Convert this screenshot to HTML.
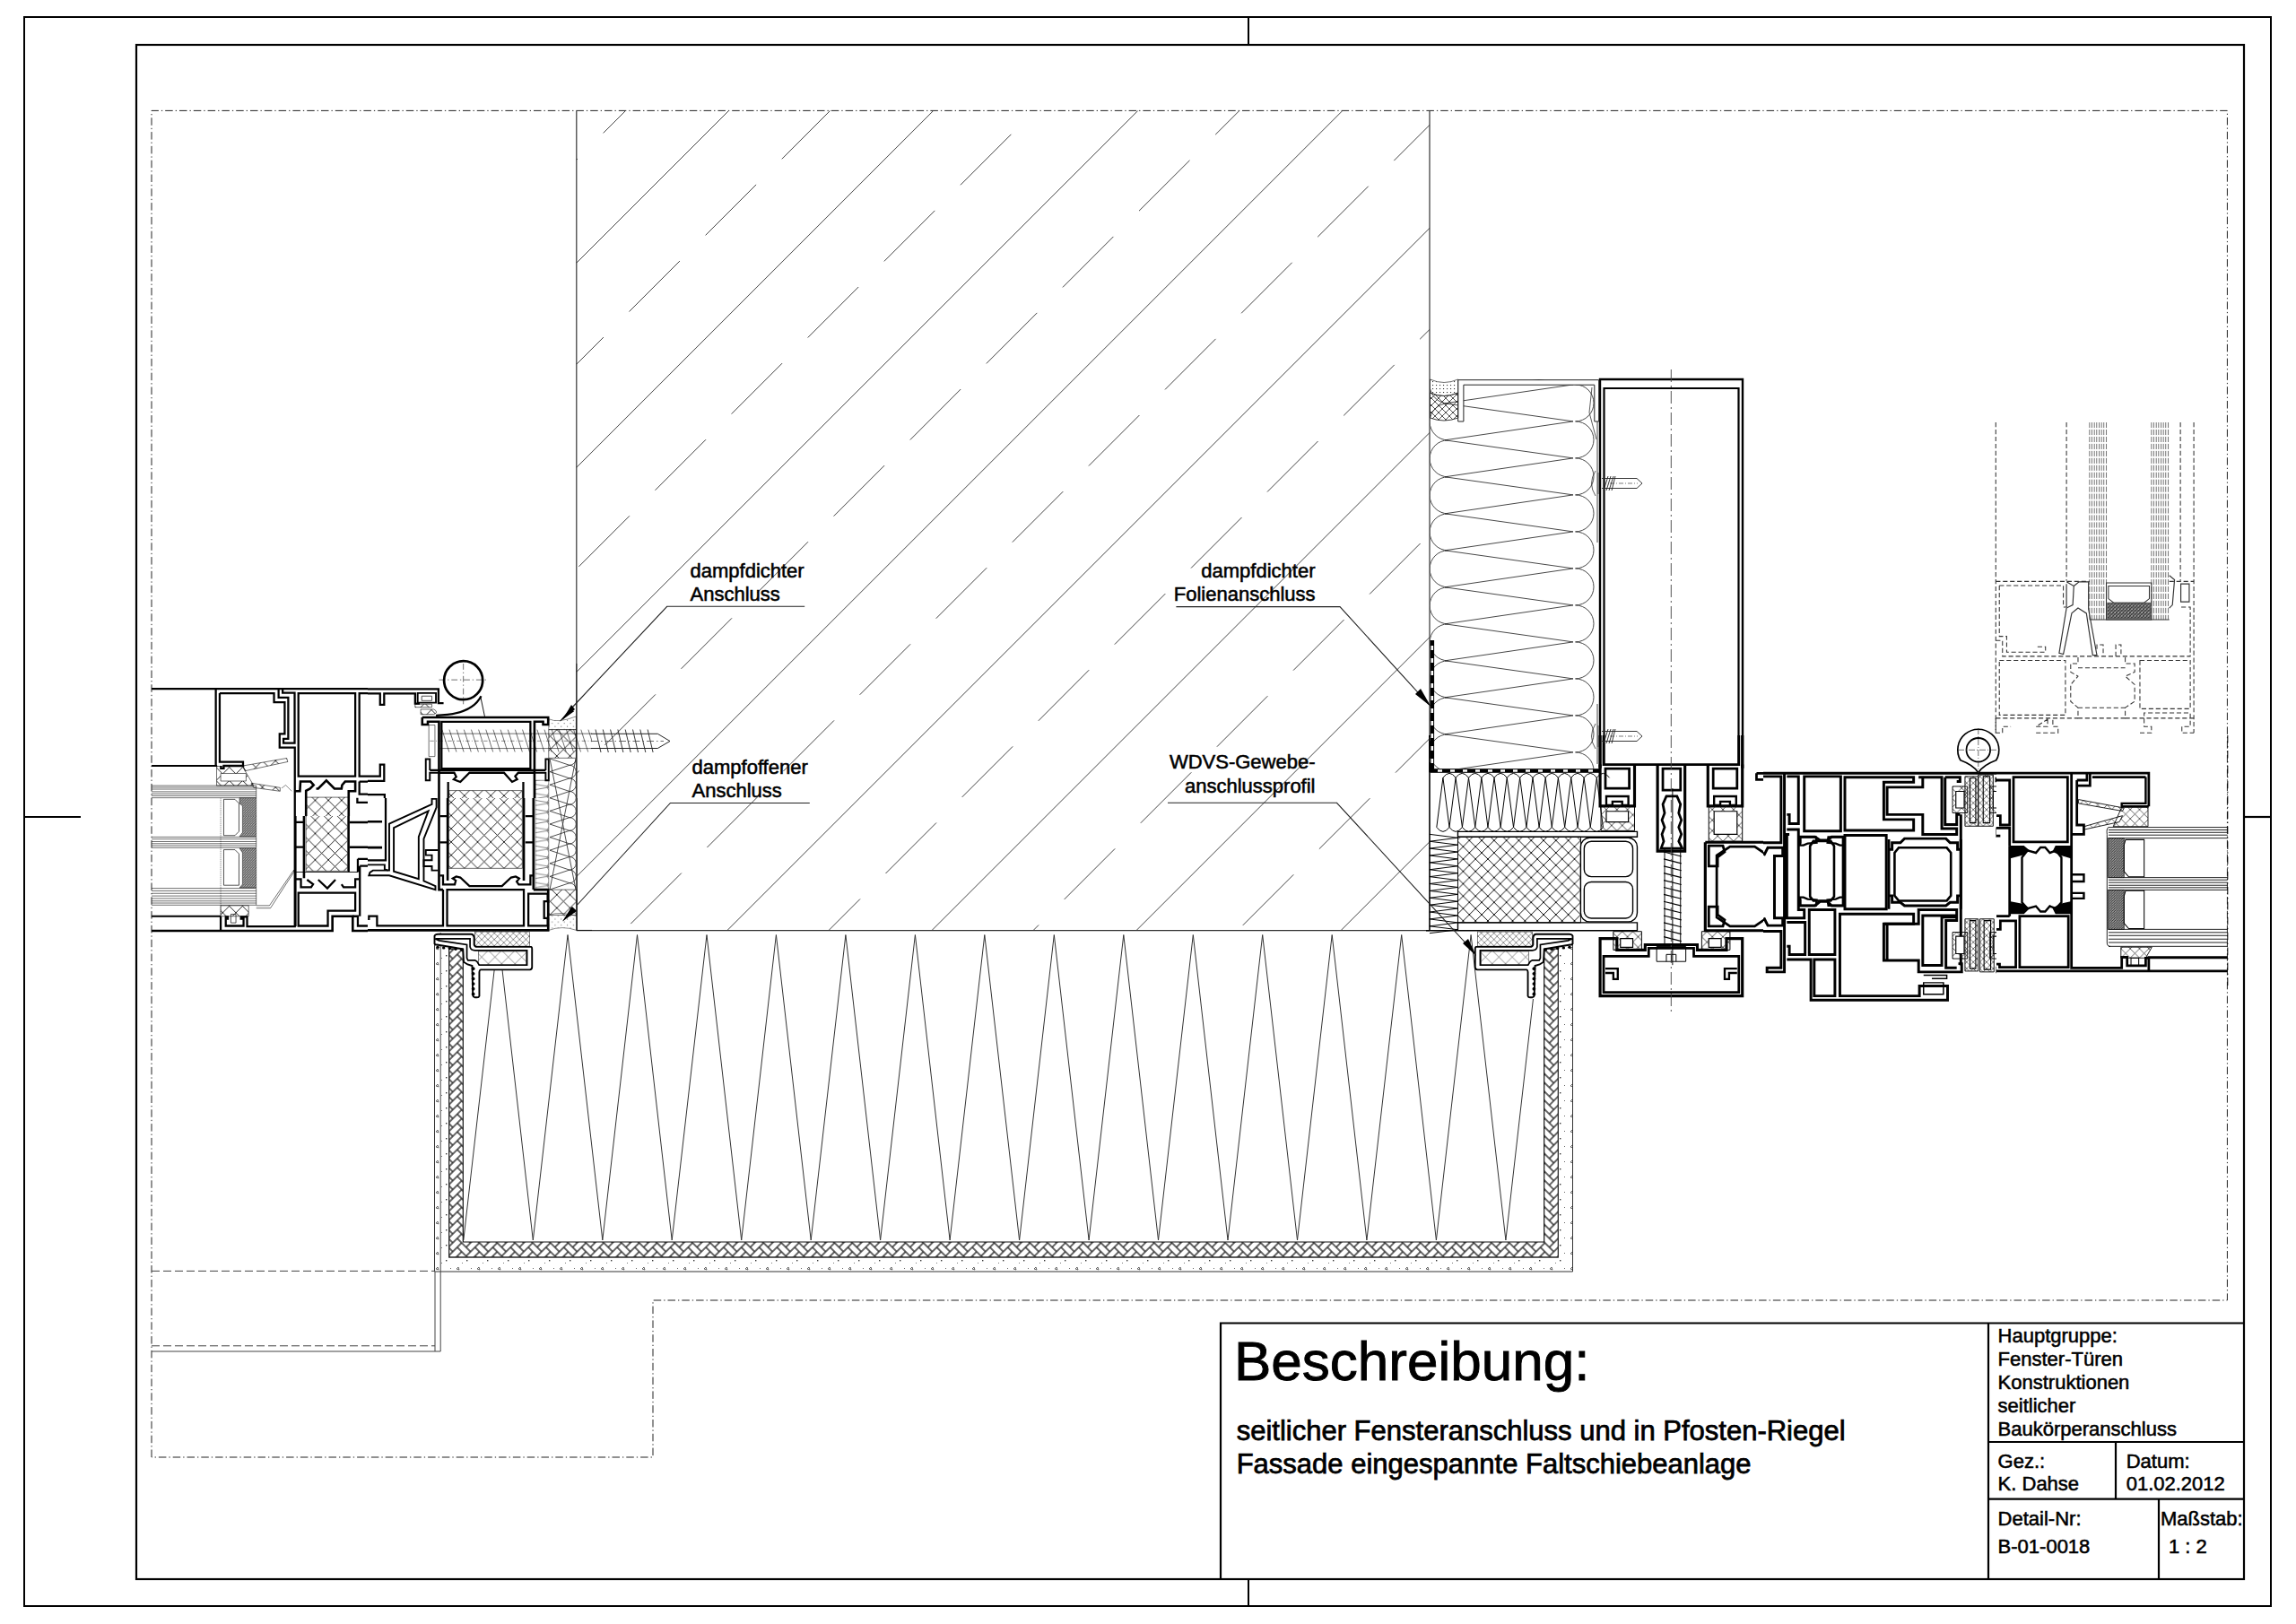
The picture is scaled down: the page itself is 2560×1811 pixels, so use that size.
<!DOCTYPE html>
<html><head><meta charset="utf-8"><style>
html,body{margin:0;padding:0;background:#fff;width:2560px;height:1811px;overflow:hidden}
svg{display:block}
text{font-family:"Liberation Sans",sans-serif;fill:#000}
</style></head><body>
<svg width="2560" height="1811" viewBox="0 0 2560 1811">
<rect x="27" y="19" width="2505" height="1772" fill="none" stroke="#000" stroke-width="2"/>
<rect x="152" y="50" width="2350" height="1711" fill="none" stroke="#000" stroke-width="2.2"/>
<line x1="1392.0" y1="19.0" x2="1392.0" y2="50.0" stroke="#000" stroke-width="2" />
<line x1="1392.0" y1="1761.0" x2="1392.0" y2="1791.0" stroke="#000" stroke-width="2" />
<line x1="27.0" y1="911.0" x2="90.0" y2="911.0" stroke="#000" stroke-width="2.2" />
<line x1="2502.0" y1="911.0" x2="2532.0" y2="911.0" stroke="#000" stroke-width="2.2" />
<path d="M169,1625 L169,123.4 L2483.4,123.4 L2483.4,1450 L728,1450 L728,1625 Z" fill="none" stroke="#222" stroke-width="1.0" stroke-dasharray="8.5 3 1.3 3"/>
<defs><clipPath id="wall"><rect x="642.8" y="123.6" width="951.2" height="913.9999999999999"/></clipPath></defs>
<g clip-path="url(#wall)" stroke="#444" stroke-width="1">
<line x1="-379.7" y1="1087.6" x2="634.3" y2="73.6"/>
<line x1="-151.6" y1="1087.6" x2="862.4" y2="73.6"/>
<line x1="76.5" y1="1087.6" x2="1090.5" y2="73.6"/>
<line x1="304.6" y1="1087.6" x2="1318.6" y2="73.6"/>
<line x1="532.7" y1="1087.6" x2="1546.7" y2="73.6"/>
<line x1="760.8" y1="1087.6" x2="1774.8" y2="73.6"/>
<line x1="988.9" y1="1087.6" x2="2002.9" y2="73.6"/>
<line x1="1217.0" y1="1087.6" x2="2231.0" y2="73.6"/>
<line x1="1445.1" y1="1087.6" x2="2459.1" y2="73.6"/>
<line x1="1673.2" y1="1087.6" x2="2687.2" y2="73.6"/>
<line x1="1901.3" y1="1087.6" x2="2915.3" y2="73.6"/>
<path d="M587.5,233.5L644.0,177.0M672.6,148.4L729.1,91.9"/>
<path d="M616.4,432.6L672.9,376.1M701.5,347.5L758.0,291.0M786.6,262.4L843.1,205.9M871.8,177.3L928.2,120.8"/>
<path d="M645.4,631.8L701.9,575.3M730.5,546.7L787.0,490.2M815.6,461.6L872.1,405.1M900.7,376.5L957.2,320.0M985.8,291.4L1042.3,234.9M1070.9,206.3L1127.4,149.8M1156.0,121.2L1212.5,64.7"/>
<path d="M589.2,916.0L645.8,859.5M674.4,830.9L730.9,774.4M759.5,745.8L816.0,689.3M844.5,660.8L901.0,604.2M929.6,575.6L986.1,519.1M1014.8,490.5L1071.2,434.0M1099.8,405.4L1156.3,348.9M1184.9,320.4L1241.4,263.9M1270.0,235.2L1326.5,178.8M1355.2,150.1L1411.7,93.6"/>
<path d="M703.3,1030.1L759.8,973.6M788.4,945.0L844.9,888.5M873.5,859.9L930.0,803.4M958.6,774.8L1015.1,718.3M1043.7,689.7L1100.2,633.2M1128.8,604.6L1185.3,548.1M1213.9,519.5L1270.4,463.0M1299.0,434.4L1355.5,377.9M1384.1,349.3L1440.6,292.8M1469.2,264.2L1525.7,207.7M1554.3,179.1L1610.8,122.6"/>
<path d="M902.5,1059.0L959.0,1002.5M987.5,974.0L1044.0,917.5M1072.7,888.9L1129.2,832.4M1157.8,803.8L1214.2,747.2M1242.8,718.6L1299.3,662.1M1328.0,633.5L1384.5,577.0M1413.0,548.5L1469.5,492.0M1498.2,463.4L1554.7,406.9M1583.2,378.2L1639.8,321.8"/>
<path d="M1101.6,1088.0L1158.1,1031.5M1186.7,1002.9L1243.2,946.4M1271.8,917.8L1328.3,861.3M1356.9,832.7L1413.4,776.2M1442.0,747.6L1498.5,691.1M1527.1,662.5L1583.6,606.0"/>
<path d="M1385.8,1031.8L1442.3,975.3M1470.9,946.7L1527.4,890.2M1556.0,861.6L1612.5,805.1"/>
<path d="M1585.0,1060.8L1641.5,1004.3"/>
</g>
<line x1="642.8" y1="123.6" x2="642.8" y2="1037.6" stroke="#333" stroke-width="1.2" />
<line x1="1594.0" y1="123.6" x2="1594.0" y2="1037.6" stroke="#333" stroke-width="1.2" />
<line x1="642.8" y1="1037.6" x2="1594.0" y2="1037.6" stroke="#333" stroke-width="1.2" />
<defs><clipPath id="zz"><path d="M516,1080 L560,1080 L560,1042 L1700,1042 L1700,1114 L1720,1114 L1720,1385 L516,1385 Z"/></clipPath></defs>
<polyline clip-path="url(#zz)" fill="none" stroke="#333" stroke-width="1" points="516.8,1383.0 555.6,1042.5 594.3,1383.0 633.0,1042.5 671.8,1383.0 710.5,1042.5 749.2,1383.0 788.0,1042.5 826.7,1383.0 865.4,1042.5 904.2,1383.0 942.9,1042.5 981.6,1383.0 1020.4,1042.5 1059.1,1383.0 1097.8,1042.5 1136.6,1383.0 1175.3,1042.5 1214.1,1383.0 1252.8,1042.5 1291.5,1383.0 1330.3,1042.5 1369.0,1383.0 1407.7,1042.5 1446.5,1383.0 1485.2,1042.5 1523.9,1383.0 1562.7,1042.5 1601.4,1383.0 1640.1,1042.5 1678.9,1383.0 1717.6,1042.5"/>
<defs><pattern id="herr" width="28.0" height="28.0" patternUnits="userSpaceOnUse" patternTransform="rotate(45)"><path d="M-28.00,-28.00h14.00v7.00h-14.00zM-14.00,-35.00h7.00v14.00h-7.00zM-28.00,0.00h14.00v7.00h-14.00zM-14.00,-7.00h7.00v14.00h-7.00zM-28.00,28.00h14.00v7.00h-14.00zM-14.00,21.00h7.00v14.00h-7.00zM0.00,-28.00h14.00v7.00h-14.00zM14.00,-35.00h7.00v14.00h-7.00zM0.00,0.00h14.00v7.00h-14.00zM14.00,-7.00h7.00v14.00h-7.00zM0.00,28.00h14.00v7.00h-14.00zM14.00,21.00h7.00v14.00h-7.00zM28.00,-28.00h14.00v7.00h-14.00zM42.00,-35.00h7.00v14.00h-7.00zM28.00,0.00h14.00v7.00h-14.00zM42.00,-7.00h7.00v14.00h-7.00zM28.00,28.00h14.00v7.00h-14.00zM42.00,21.00h7.00v14.00h-7.00zM-21.00,-21.00h14.00v7.00h-14.00zM-7.00,-28.00h7.00v14.00h-7.00zM-21.00,7.00h14.00v7.00h-14.00zM-7.00,0.00h7.00v14.00h-7.00zM-21.00,35.00h14.00v7.00h-14.00zM-7.00,28.00h7.00v14.00h-7.00zM7.00,-21.00h14.00v7.00h-14.00zM21.00,-28.00h7.00v14.00h-7.00zM7.00,7.00h14.00v7.00h-14.00zM21.00,0.00h7.00v14.00h-7.00zM7.00,35.00h14.00v7.00h-14.00zM21.00,28.00h7.00v14.00h-7.00zM35.00,-21.00h14.00v7.00h-14.00zM49.00,-28.00h7.00v14.00h-7.00zM35.00,7.00h14.00v7.00h-14.00zM49.00,0.00h7.00v14.00h-7.00zM35.00,35.00h14.00v7.00h-14.00zM49.00,28.00h7.00v14.00h-7.00zM-14.00,-14.00h14.00v7.00h-14.00zM0.00,-21.00h7.00v14.00h-7.00zM-14.00,14.00h14.00v7.00h-14.00zM0.00,7.00h7.00v14.00h-7.00zM-14.00,42.00h14.00v7.00h-14.00zM0.00,35.00h7.00v14.00h-7.00zM14.00,-14.00h14.00v7.00h-14.00zM28.00,-21.00h7.00v14.00h-7.00zM14.00,14.00h14.00v7.00h-14.00zM28.00,7.00h7.00v14.00h-7.00zM14.00,42.00h14.00v7.00h-14.00zM28.00,35.00h7.00v14.00h-7.00zM42.00,-14.00h14.00v7.00h-14.00zM56.00,-21.00h7.00v14.00h-7.00zM42.00,14.00h14.00v7.00h-14.00zM56.00,7.00h7.00v14.00h-7.00zM42.00,42.00h14.00v7.00h-14.00zM56.00,35.00h7.00v14.00h-7.00zM-7.00,-7.00h14.00v7.00h-14.00zM7.00,-14.00h7.00v14.00h-7.00zM-7.00,21.00h14.00v7.00h-14.00zM7.00,14.00h7.00v14.00h-7.00zM-7.00,49.00h14.00v7.00h-14.00zM7.00,42.00h7.00v14.00h-7.00zM21.00,-7.00h14.00v7.00h-14.00zM35.00,-14.00h7.00v14.00h-7.00zM21.00,21.00h14.00v7.00h-14.00zM35.00,14.00h7.00v14.00h-7.00zM21.00,49.00h14.00v7.00h-14.00zM35.00,42.00h7.00v14.00h-7.00zM49.00,-7.00h14.00v7.00h-14.00zM63.00,-14.00h7.00v14.00h-7.00zM49.00,21.00h14.00v7.00h-14.00zM63.00,14.00h7.00v14.00h-7.00zM49.00,49.00h14.00v7.00h-14.00zM63.00,42.00h7.00v14.00h-7.00z" stroke="#222" stroke-width="0.9" fill="none"/></pattern><pattern id="stip" width="23" height="17" patternUnits="userSpaceOnUse"><path d="M3,4 l2,-2 l1,3 z" fill="none" stroke="#444" stroke-width="0.8"/><rect x="14" y="11" width="1.4" height="1.4" fill="#333"/><rect x="9" y="14" width="1" height="1" fill="#777"/><rect x="19" y="3" width="1" height="1" fill="#666"/></pattern></defs>
<path d="M500.6,1058 L500.6,1402 L1737.4,1402 L1737.4,1058 L1721.7,1058 L1721.7,1385 L516.3,1385 L516.3,1058 Z" fill="url(#herr)" stroke="#111" stroke-width="1.2"/>
<path d="M484.5,1045 L484.5,1418 L1753.5,1418 L1753.5,1045 L1737.4,1045 L1737.4,1402 L500.6,1402 L500.6,1045 Z" fill="url(#stip)" stroke="#333" stroke-width="1"/>
<line x1="485.0" y1="1418.0" x2="485.0" y2="1507.0" stroke="#444" stroke-width="1" />
<line x1="491.2" y1="1040.0" x2="491.2" y2="1507.0" stroke="#444" stroke-width="1" />
<line x1="169.0" y1="1507.0" x2="491.2" y2="1507.0" stroke="#444" stroke-width="1.1" />
<path d="M169,1417.4 L485,1417.4 M169,1500.8 L485,1500.8" stroke="#444" stroke-width="1" stroke-dasharray="9 4"/>
<defs><pattern id="xh8" width="130" height="130" patternUnits="userSpaceOnUse"><path d="M0,0 L130,130 M130,0 L0,130" stroke="#111" stroke-width="8" fill="none"/></pattern><pattern id="stipD" width="24" height="24" patternUnits="userSpaceOnUse"><rect width="24" height="24" fill="#999"/><path d="M0,24 L24,0" stroke="#222" stroke-width="6"/><rect x="4" y="4" width="6" height="6" fill="#fff"/></pattern><pattern id="stipL" width="60" height="60" patternUnits="userSpaceOnUse"><rect x="10" y="15" width="8" height="8" fill="#333"/><rect x="40" y="45" width="8" height="8" fill="#333"/></pattern><pattern id="zzL" width="270" height="90" patternUnits="userSpaceOnUse"><path d="M0,0 L270,45 L0,90" stroke="#222" stroke-width="5" fill="none"/><path d="M270,0 Q200,45 270,90" stroke="#333" stroke-width="4" fill="none"/></pattern></defs><defs><clipPath id="c160_760"><rect x="160" y="760" width="250" height="150"/></clipPath></defs><g clip-path="url(#c160_760)"><g transform="translate(160,760) scale(0.11325)" fill="none" stroke="#000" stroke-linejoin="miter"><path d="M80,72 L2296,72" stroke-width="20" /><path d="M712,72 L712,835" stroke-width="20" /><path d="M80,830 L725,830" stroke-width="17" /><path d="M750,115 L1285,115 L1285,205 L1390,205 L1390,515 L1340,515 L1340,650 L1490,650 L1490,1413" stroke-width="20" /><path d="M750,115 L750,792 L980,792 L980,830 L790,830 L790,855 L762,855 L762,830" stroke-width="20" /><path d="M1330,72 L1330,158 L1425,158 L1425,565 L1378,565 L1378,605 L1488,605 L1488,112 L1370,112 L1370,72" stroke-width="20" /><path d="M1525,115 L2085,115 L2085,932 L1525,932 Z" stroke-width="20" /><path d="M2296,115 L2125,115 L2125,932 L2296,932" stroke-width="20" /><path d="M1490,1080 L1540,1080 L1545,985 L1645,985 L1675,1020 L1640,1055 L1600,1075 L1600,1413" stroke-width="23" /><path d="M1700,1055 L1720,1055 L1800,975 L1880,1055 L1950,1055 L1955,1020 L1985,985 L2085,985 L2085,1080 L2020,1080 L2020,1413" stroke-width="23" /><path d="M2125,985 L2296,985 M2125,985 L2125,1110 L2296,1110" stroke-width="20" /><path d="M2105,1145 L2105,1190 L2296,1190" stroke-width="20" /><path d="M1600,1140 L2020,1140 L2020,1413 L1600,1413 Z" stroke-width="5" fill="url(#xh8)"/><path d="M80,1025 L1110,1025 L1110,1145 L80,1145 M80,1042 L1110,1042 M80,1060 L1110,1060 M80,1085 L1110,1085 M80,1105 L1110,1105 M80,1125 L1110,1125" stroke-width="5" /><path d="M790,1413 L790,1160 L900,1160 L940,1200 L940,1413" stroke-width="6" /><path d="M760,1150 L760,1413" stroke-width="4" stroke-dasharray="10 6"/><path d="M945,1145 L1110,1145 L1110,1413 L975,1413 L975,1225 L945,1200 Z" stroke-width="4" fill="url(#stipD)"/><path d="M720,835 L720,1025 L1085,1025 L1000,880 L980,830 Z" stroke-width="5" fill="url(#xh8)"/><path d="M760,905 L1010,905 L1010,980 L760,980 Z" stroke-width="5" fill="#fff"/><path d="M980,830 L1410,755 L1420,790 L1000,880 Z" stroke-width="5" fill="url(#xh8)"/><path d="M1060,1000 L1345,1045 L1345,1080 L1085,1045 Z" stroke-width="5" fill="url(#xh8)"/><path d="M1360,1050 L1400,1020 L1460,1080" stroke-width="4" /></g></g><defs><clipPath id="c400_740"><rect x="410" y="720" width="250" height="170"/></clipPath></defs><g clip-path="url(#c400_740)"><g transform="translate(400,740) scale(0.11325)" fill="none" stroke="#000" stroke-linejoin="miter"><path d="M0,250 L785,250 L785,390 L835,390" stroke-width="20" /><path d="M0,295 L210,295 L210,405 L250,405 L250,295 L555,295 L555,395 L600,395" stroke-width="20" /><path d="M580,290 L760,290 L760,385 L580,385 Z" stroke-width="17" /><path d="M620,320 L720,320 L720,365 L620,365 Z" stroke-width="6" /><path d="M555,400 L720,400 L720,430 L555,430 Z M610,450 L740,450 Q790,480 740,500 L610,500 Z" stroke-width="5" fill="url(#xh8)"/><circle cx="1030" cy="165" r="190" stroke-width="24"/><path d="M790,160 L1260,160 M1030,0 L1030,400" stroke-width="5" stroke-dasharray="60 25 12 25"/><path d="M760,510 Q1110,505 1205,320" stroke-width="20" /><path d="M1200,330 L1240,520" stroke-width="8" /><path d="M10,295 L10,1110 L210,1110 L210,995 L250,995 L250,1155 L0,1155" stroke-width="20" /><path d="M0,1290 L255,1290 L255,1413" stroke-width="20" /><path d="M625,530 L1865,530 L1865,600 L1815,600 L1815,572 L1730,572 L1730,1413" stroke-width="23" /><path d="M625,530 L625,600 L680,600 L680,572 L790,572 L790,1413" stroke-width="23" /><path d="M815,572 L1690,572 L1690,1035 L815,1035 Z" stroke-width="20" /><path d="M700,1050 L1840,1050" stroke-width="20" /><path d="M700,1050 L700,940 L660,940 L660,1150 L700,1150 L700,1075 L790,1075" stroke-width="17" /><path d="M1840,1050 L1840,940 L1870,940 L1870,1150 L1840,1150 L1840,1075 L1730,1075" stroke-width="17" /><path d="M790,1075 L940,1075 L960,1115 L935,1140 L1000,1165 L1090,1075 L1430,1075 L1510,1165 L1560,1140 L1540,1110 L1570,1075 L1730,1075" stroke-width="20" /><path d="M880,1165 L880,1413 M1620,1165 L1620,1413" stroke-width="20" /><path d="M890,1250 L1610,1250 L1610,1413 L890,1413 Z" stroke-width="5" fill="url(#xh8)"/><path d="M690,605 L750,605 L750,915 L690,915 Z" stroke-width="5" /><path d="M800,690 L2296,690 M800,835 L2296,835" stroke-width="5" /><path d="M700,762 L2296,762" stroke-width="4" stroke-dasharray="40 20 8 20"/><path d="M820,650 L890,870" stroke-width="5" /><path d="M892,650 L962,870" stroke-width="5" /><path d="M964,650 L1034,870" stroke-width="5" /><path d="M1036,650 L1106,870" stroke-width="5" /><path d="M1108,650 L1178,870" stroke-width="5" /><path d="M1180,650 L1250,870" stroke-width="5" /><path d="M1252,650 L1322,870" stroke-width="5" /><path d="M1324,650 L1394,870" stroke-width="5" /><path d="M1396,650 L1466,870" stroke-width="5" /><path d="M1468,650 L1538,870" stroke-width="5" /><path d="M1540,650 L1610,870" stroke-width="5" /><path d="M1612,650 L1682,870" stroke-width="5" /><path d="M1684,650 L1754,870" stroke-width="5" /><path d="M1756,650 L1826,870" stroke-width="5" /><path d="M1828,650 L1898,870" stroke-width="5" /><path d="M1900,650 L1970,870" stroke-width="5" /><path d="M1972,650 L2042,870" stroke-width="5" /><path d="M2044,650 L2114,870" stroke-width="5" /><path d="M2116,650 L2186,870" stroke-width="5" /><path d="M2188,650 L2258,870" stroke-width="5" /><path d="M2260,650 L2330,870" stroke-width="5" /><path d="M1870,545 Q1960,590 2140,520 L2140,650 L1870,650 Z" stroke-width="4" fill="url(#stipL)"/><path d="M1870,650 L2140,650 L2140,930 L1870,930 Z" stroke-width="5" fill="url(#xh8)"/><path d="M1740,1150 L1870,1150 L1870,1413 L1740,1413 Z" stroke-width="4" fill="url(#zzL)"/><path d="M1975,572 L2085,440 L2120,470 Z" fill="#000" stroke="none"/><path d="M1985,565 L2296,225" stroke-width="5" /><path d="M2145,0 L2145,1413" stroke-width="6" /></g></g><defs><clipPath id="c160_900"><rect x="160" y="910" width="250" height="150"/></clipPath></defs><g clip-path="url(#c160_900)"><g transform="translate(160,900) scale(0.11325)" fill="none" stroke="#000" stroke-linejoin="miter"><path d="M80,1218 L1860,1218 L1860,1075 L2060,1075 L2060,1218 L2296,1218" stroke-width="23" /><path d="M760,1218 L760,1075" stroke-width="20" /><path d="M80,1075 L760,1075" stroke-width="17" /><path d="M800,1080 L830,1080 L830,1100 L810,1100 L810,1170 L985,1170 L985,1100 L960,1100 L960,1080 L1020,1080 L1020,1175 L1490,1175 L1490,0" stroke-width="20" /><path d="M860,1055 L910,1055 L910,1140 L860,1140 Z" stroke-width="6" /><path d="M760,1075 L760,970 L1035,970 L1035,1075 Z" stroke-width="5" fill="url(#xh8)"/><path d="M80,295 L1110,295 L1110,400 L80,400 M80,315 L1110,315 M80,340 L1110,340 M80,360 L1110,360 M80,380 L1110,380" stroke-width="5" /><path d="M80,800 L1110,800 L1110,965 L80,965 M80,825 L1110,825 M80,850 L1110,850 M80,875 L1110,875 M80,900 L1110,900 M80,925 L1110,925 M80,945 L1110,945" stroke-width="5" /><path d="M790,0 L790,280 L900,280 L940,240 L940,0 M790,420 L900,420 L940,460 L940,770 L900,770 L790,770 Z" stroke-width="6" /><path d="M760,0 L760,1060" stroke-width="4" stroke-dasharray="10 6"/><path d="M945,0 L1110,0 L1110,290 L945,290 L975,250 L975,0 Z" stroke-width="4" fill="url(#stipD)"/><path d="M945,405 L1110,405 L1110,795 L945,795 L975,760 L975,450 Z" stroke-width="4" fill="url(#stipD)"/><path d="M1110,970 L1240,970 L1480,620 L1480,640 L1250,995 L1110,995" stroke-width="5" /><path d="M1495,0 L1495,1175" stroke-width="23" /><path d="M1580,0 L1580,700" stroke-width="23" /><path d="M2020,0 L2020,640" stroke-width="20" /><path d="M1500,150 L1580,150 M1500,395 L1580,395" stroke-width="20" /><path d="M2030,150 L2296,150 M2030,395 L2296,395" stroke-width="23" /><path d="M1500,640 L2110,640" stroke-width="8" /><path d="M1600,0 L2010,0 L2010,630 L1600,630 Z" stroke-width="5" fill="url(#xh8)"/><path d="M1500,710 L1550,710 L1550,790 L1650,790 L1670,760 L1610,715 M1720,715 L1810,800 L1890,715 M1950,760 L1970,790 L2085,790 L2085,710 L2120,710" stroke-width="20" /><path d="M1525,845 L2085,845 L2085,1020 L1815,1020 L1815,1170 L1525,1170 Z" stroke-width="20" /><path d="M2110,510 L2296,510 M2110,510 L2110,640 M2130,580 L2296,580 M2130,580 L2130,1075" stroke-width="20" /><path d="M2220,610 L2296,610 L2296,670 L2220,670 Z" stroke-width="14" /><path d="M2060,1075 L2110,1075 L2110,1170 L2220,1170 L2220,1085 L2296,1085" stroke-width="20" /></g></g><defs><clipPath id="c400_880"><rect x="410" y="890" width="250" height="150"/></clipPath></defs><g clip-path="url(#c400_880)"><g transform="translate(400,880) scale(0.11325)" fill="none" stroke="#000" stroke-linejoin="miter"><path d="M5,0 L5,1290" stroke-width="23" /><path d="M0,45 L265,45 L265,700 L0,700" stroke-width="20" /><path d="M0,320 L230,320 M0,575 L230,575" stroke-width="23" /><path d="M0,745 L255,745 L255,790 L290,800" stroke-width="17" /><path d="M15,1290 L15,1395" stroke-width="23" /><path d="M100,1290 L100,1250 L180,1250 L180,1345 L830,1345 L830,990" stroke-width="20" /><path d="M100,850 L300,850 L755,990 L755,955 L640,905 L640,490 L765,180 L765,95 L720,95 L720,150 L300,340 L300,800 L140,800 L110,820 Z" stroke-width="17" /><path d="M345,380 L685,215 L590,470 L590,885 L345,810 Z" stroke-width="17" /><path d="M780,600 L660,600 L660,650 L720,650 L720,700 L640,700 L640,760 L720,760 L720,800 L780,800" stroke-width="17" /><path d="M790,0 L790,990 L830,990" stroke-width="23" /><path d="M875,0 L875,900" stroke-width="23" /><path d="M800,265 L875,265 M800,525 L875,525" stroke-width="20" /><path d="M1625,0 L1625,900 M1720,0 L1720,990" stroke-width="23" /><path d="M1640,265 L1720,265 M1640,525 L1720,525" stroke-width="20" /><path d="M885,15 L1610,15 L1610,780 L885,780 Z" stroke-width="5" fill="url(#xh8)"/><path d="M800,850 L830,850 L830,940 L945,940 L955,900 L925,880 L960,860 L1000,870 L1090,955 L1410,955 L1500,870 L1545,860 L1580,880 L1555,910 L1575,940 L1690,940 L1690,850 L1720,850" stroke-width="20" /><path d="M870,990 L1625,990 L1625,1345 L870,1345 Z" stroke-width="20" /><path d="M1670,1030 L1860,1030 L1860,1105 L1825,1105 L1825,1270 L1860,1270 L1860,1345 L1670,1345 Z" stroke-width="20" /><path d="M0,1390 L1865,1390 L1865,990 L1720,990" stroke-width="23" /><path d="M1740,0 L1870,0 L1870,990 L1740,990 Z" stroke-width="4" fill="url(#zzL)"/><path d="M1870,990 L2145,990 L2145,1240 L1870,1240 Z" stroke-width="5" fill="url(#xh8)"/><path d="M1870,1240 Q1990,1200 2145,1250 L2145,1390 Q2000,1340 1870,1390 Z" stroke-width="4" fill="url(#stipL)"/><path d="M2010,1300 L2140,1195 L2095,1160 Z" fill="#000" stroke="none"/><path d="M2150,0 L2150,1390 L2296,1390" stroke-width="6" /></g></g>
<defs><pattern id="xh12" width="90" height="90" patternUnits="userSpaceOnUse"><path d="M0,0 L90,90 M90,0 L0,90" stroke="#111" stroke-width="6" fill="none"/></pattern><pattern id="xh12b" width="190" height="190" patternUnits="userSpaceOnUse"><path d="M0,0 L190,190 M190,0 L0,190" stroke="#111" stroke-width="6" fill="none"/></pattern></defs><g transform="translate(470,1030) scale(0.07839)" stroke="#000" fill="none"><path d="M200,300 L185,285 L185,175 Q195,150 235,150 L710,150 Q745,155 748,200 L748,300 Q755,330 790,330 L1560,330 Q1572,335 1572,360 L1572,620 Q1570,650 1540,655 L840,655 Q822,660 822,690 L822,1030 Q815,1050 790,1050 L760,1050 Q735,1045 730,1020 L720,600 L655,580 L600,545 L590,360 L220,300 Z" stroke-width="24" fill="#fff"/><path d="M195,215 L690,215 L690,330 Q700,380 760,380 L1500,380 L1500,590 L820,590 L790,540 L760,520 L660,520 L645,490 L645,300 L250,240 Z" stroke-width="22" fill="#fff"/><rect x="760" y="115" width="780" height="205" stroke-width="6" fill="url(#xh12)"/><rect x="810" y="395" width="680" height="190" stroke-width="6" fill="url(#xh12b)"/><circle cx="230" cy="335" r="22" fill="#000" stroke="none"/><circle cx="315" cy="343" r="22" fill="#000" stroke="none"/><circle cx="400" cy="352" r="22" fill="#000" stroke="none"/><circle cx="485" cy="360" r="22" fill="#000" stroke="none"/><circle cx="570" cy="369" r="22" fill="#000" stroke="none"/><circle cx="735" cy="640" r="24" fill="#000" stroke="none"/><circle cx="735" cy="712" r="24" fill="#000" stroke="none"/><circle cx="735" cy="784" r="24" fill="#000" stroke="none"/><circle cx="735" cy="856" r="24" fill="#000" stroke="none"/><circle cx="735" cy="928" r="24" fill="#000" stroke="none"/><circle cx="735" cy="1000" r="24" fill="#000" stroke="none"/></g><g transform="translate(2238,0) scale(-1,1)"><g transform="translate(470,1030) scale(0.07839)" stroke="#000" fill="none"><path d="M200,300 L185,285 L185,175 Q195,150 235,150 L710,150 Q745,155 748,200 L748,300 Q755,330 790,330 L1560,330 Q1572,335 1572,360 L1572,620 Q1570,650 1540,655 L840,655 Q822,660 822,690 L822,1030 Q815,1050 790,1050 L760,1050 Q735,1045 730,1020 L720,600 L655,580 L600,545 L590,360 L220,300 Z" stroke-width="24" fill="#fff"/><path d="M195,215 L690,215 L690,330 Q700,380 760,380 L1500,380 L1500,590 L820,590 L790,540 L760,520 L660,520 L645,490 L645,300 L250,240 Z" stroke-width="22" fill="#fff"/><rect x="760" y="115" width="780" height="205" stroke-width="6" fill="url(#xh12)"/><rect x="810" y="395" width="680" height="190" stroke-width="6" fill="url(#xh12b)"/><circle cx="230" cy="335" r="22" fill="#000" stroke="none"/><circle cx="315" cy="343" r="22" fill="#000" stroke="none"/><circle cx="400" cy="352" r="22" fill="#000" stroke="none"/><circle cx="485" cy="360" r="22" fill="#000" stroke="none"/><circle cx="570" cy="369" r="22" fill="#000" stroke="none"/><circle cx="735" cy="640" r="24" fill="#000" stroke="none"/><circle cx="735" cy="712" r="24" fill="#000" stroke="none"/><circle cx="735" cy="784" r="24" fill="#000" stroke="none"/><circle cx="735" cy="856" r="24" fill="#000" stroke="none"/><circle cx="735" cy="928" r="24" fill="#000" stroke="none"/><circle cx="735" cy="1000" r="24" fill="#000" stroke="none"/></g></g>
<defs><pattern id="xh5" width="60" height="60" patternUnits="userSpaceOnUse"><path d="M0,0 L60,60 M60,0 L0,60" stroke="#222" stroke-width="4" fill="none"/></pattern><pattern id="xh5b" width="70" height="70" patternUnits="userSpaceOnUse"><path d="M0,0 L70,70 M70,0 L0,70" stroke="#111" stroke-width="5" fill="none"/></pattern><pattern id="xh5c" width="40" height="40" patternUnits="userSpaceOnUse"><path d="M0,0 L40,40 M40,0 L0,40" stroke="#444" stroke-width="4" fill="none"/></pattern><pattern id="stipD5" width="16" height="16" patternUnits="userSpaceOnUse"><rect width="16" height="16" fill="#888"/><path d="M0,16 L16,0" stroke="#222" stroke-width="5"/><rect x="3" y="3" width="4" height="4" fill="#fff"/></pattern></defs><defs><clipPath id="fa"><rect x="1590" y="820" width="376" height="320"/></clipPath></defs><g clip-path="url(#fa)"><g transform="translate(1590,820) scale(0.19704)" fill="none" stroke="#000"><path d="M985,0 L985,185 M1790,0 L1790,185" stroke-width="16" /><path d="M1005,0 L1005,165 L1770,165 L1770,0" stroke-width="14" /><path d="M985,165 L985,400 L1180,400 L1180,165 M1310,165 L1310,655 L1465,655 L1465,165 M1595,165 L1595,400 L1790,400 L1790,165" stroke-width="16" /><path d="M1015,188 L1150,188 L1150,300 L1015,300 Z M1340,188 L1440,188 L1440,310 L1340,310 Z M1625,188 L1760,188 L1760,300 L1625,300 Z" stroke-width="14" /><path d="M1020,345 L1145,345 L1145,395 L1110,395 L1110,375 L1055,375 L1055,395 L1020,395 Z M1630,345 L1755,345 L1755,395 L1720,395 L1720,375 L1665,375 L1665,395 L1630,395 Z" stroke-width="12" /><path d="M990,400 L1180,400 L1180,540 L990,540 Z M1600,400 L1790,400 L1790,600 L1600,600 Z" stroke-width="5" fill="url(#xh5)"/><path d="M1020,430 L1145,430 L1145,490 L1020,490 Z M1630,430 L1760,430 L1760,560 L1630,560 Z" stroke-width="6" fill="#fff"/><path d="M1360,345 L1420,345 L1440,390 L1430,440 L1445,480 L1430,520 L1445,560 L1430,600 L1450,640 L1330,640 L1345,600 L1335,560 L1350,520 L1335,480 L1350,440 L1340,390 Z" stroke-width="14" /><path d="M1350,640 L1350,1180 M1440,640 L1440,1180 M1395,300 L1395,1300" stroke-width="5" /><path d="M1345,660 L1445,685" stroke-width="6" /><path d="M1345,700 L1445,725" stroke-width="6" /><path d="M1345,740 L1445,765" stroke-width="6" /><path d="M1345,780 L1445,805" stroke-width="6" /><path d="M1345,820 L1445,845" stroke-width="6" /><path d="M1345,860 L1445,885" stroke-width="6" /><path d="M1345,900 L1445,925" stroke-width="6" /><path d="M1345,940 L1445,965" stroke-width="6" /><path d="M1345,980 L1445,1005" stroke-width="6" /><path d="M1345,1020 L1445,1045" stroke-width="6" /><path d="M1345,1060 L1445,1085" stroke-width="6" /><path d="M1345,1100 L1445,1125" stroke-width="6" /><path d="M1345,1140 L1445,1165" stroke-width="6" /><path d="M985,1150 L1080,1150 L1080,1215 L1240,1215 L1240,1185 L1535,1185 L1535,1215 L1700,1215 L1700,1150 L1790,1150 L1790,1475 L985,1475 Z" stroke-width="16" /><path d="M1005,1250 L1260,1250 L1260,1205 L1515,1205 L1515,1250 L1770,1250 L1770,1455 L1005,1455 Z" stroke-width="14" /><path d="M1015,1320 L1085,1320 L1085,1380 L1060,1380 L1060,1345 L1015,1345 M1760,1320 L1690,1320 L1690,1380 L1715,1380 L1715,1345 L1760,1345" stroke-width="12" /><path d="M1060,1110 L1220,1110 L1220,1215 L1060,1215 Z M1560,1110 L1720,1110 L1720,1215 L1560,1215 Z" stroke-width="5" fill="url(#xh5)"/><path d="M1100,1150 L1170,1150 L1170,1200 L1100,1200 Z M1600,1150 L1670,1150 L1670,1200 L1600,1200 Z" stroke-width="6" fill="#fff"/><path d="M1305,1195 L1470,1195 L1470,1280 L1305,1280 Z M1360,1280 L1360,1240 L1415,1240 L1415,1280 M1388,1240 L1388,1280" stroke-width="5" /><path d="M1580,605 L2030,605 M1580,605 L1580,1105 L2030,1105" stroke-width="16" /><path d="M1645,680 L1720,630 L1860,630 L1935,680 L1965,690 L1965,1020 L1935,1030 L1860,1080 L1720,1080 L1645,1030 Z" stroke-width="14" /><path d="M1600,625 L1680,625 L1690,660 L1650,690 L1650,740 L1600,740 Z M1600,1080 L1680,1080 L1690,1045 L1650,1015 L1650,970 L1600,970 Z" stroke-width="14" /><path d="M1980,625 L2030,625 L2030,740 L1985,740 L1965,690 Z M1980,1080 L2030,1080 L2030,970 L1985,970 L1965,1020 Z" stroke-width="14" /><path d="M1870,215 L2030,215 M1870,215 L1870,250 L2010,250 L2010,600" stroke-width="14" /><path d="M2030,1105 L2010,1105 L2010,1320 L1930,1320 L1930,1340 L2030,1340" stroke-width="14" /><path d="M25,0 L25,200 L985,200" stroke-width="18" stroke-linejoin="miter"/><path d="M25,10 L25,195 M40,200 L985,200" stroke-width="7" stroke="#fff" stroke-dasharray="22 98"/><path d="M60,520 L96,240 L132,520M96,240 Q132,190 168,240M60,520 Q96,570 132,520M132,520 L168,240 L205,520M168,240 Q204,190 241,240M132,520 Q168,570 205,520M205,520 L241,240 L278,520M241,240 Q277,190 314,240M205,520 Q241,570 278,520M278,520 L314,240 L350,520M314,240 Q350,190 386,240M278,520 Q314,570 350,520M350,520 L386,240 L422,520M386,240 Q422,190 458,240M350,520 Q386,570 422,520M422,520 L458,240 L495,520M458,240 Q494,190 531,240M422,520 Q458,570 495,520M495,520 L531,240 L568,520M531,240 Q567,190 604,240M495,520 Q531,570 568,520M568,520 L604,240 L640,520M604,240 Q640,190 676,240M568,520 Q604,570 640,520M640,520 L676,240 L712,520M676,240 Q712,190 748,240M640,520 Q676,570 712,520M712,520 L748,240 L785,520M748,240 Q784,190 821,240M712,520 Q748,570 785,520M785,520 L821,240 L858,520M821,240 Q857,190 894,240M785,520 Q821,570 858,520M858,520 L894,240 L930,520M894,240 Q930,190 966,240M858,520 Q894,570 930,520M930,520 L966,240 L1002,520M966,240 Q1002,190 1038,240M930,520 Q966,570 1002,520" stroke-width="5" /><path d="M180,545 L1195,545 L1195,575 L180,575 Z M180,1060 L1195,1060 L1195,1105 L180,1105 Z M0,1105 L180,1105" stroke-width="7" /><path d="M180,575 L875,575 L875,1060 L180,1060 Z" stroke-width="5" fill="url(#xh5b)"/><rect x="875" y="580" width="320" height="475" rx="50" stroke-width="7"/><rect x="895" y="600" width="275" height="200" rx="40" stroke-width="7"/><rect x="895" y="830" width="275" height="205" rx="40" stroke-width="7"/><path d="M20,560 L180,580 L20,600M20,600 L180,620 L20,640M20,640 L180,660 L20,680M20,680 L180,700 L20,720M20,720 L180,740 L20,760M20,760 L180,780 L20,800M20,800 L180,820 L20,840M20,840 L180,860 L20,880M20,880 L180,900 L20,920M20,920 L180,940 L20,960M20,960 L180,980 L20,1000M20,1000 L180,1020 L20,1040M20,1040 L180,1060 L20,1080M20,1080 L180,1100 L20,1120" stroke-width="5" /><path d="M20,0 L20,1105" stroke-width="6" /></g></g><defs><clipPath id="fb"><rect x="1966" y="820" width="260" height="320"/></clipPath></defs><g clip-path="url(#fb)"><g transform="translate(1960,840) scale(0.18474)" fill="none" stroke="#000"><path d="M0,120 L1624,120" stroke-width="16" /><path d="M0,140 L140,140 L140,540 L0,540 M160,120 L160,1320 L55,1320 L55,1295 L140,1295 L140,1075 L0,1075" stroke-width="16" /><path d="M0,585 L40,610 L60,570 L150,570 L150,620 L100,620 L100,995 L150,995 L150,1040 L60,1040 L40,1000 L0,1020" stroke-width="16" /><path d="M175,140 L245,140 L245,425 L190,425 L190,370 L175,370 M175,460 L245,460 L245,945 L280,945 L280,995 L175,995 L175,490 L190,490 M175,1020 L285,1020 L285,1215 L190,1215 L190,1165 L175,1165" stroke-width="16" /><path d="M280,140 L500,140 L500,470 L280,470 Z" stroke-width="16" /><path d="M255,545 L255,505 L345,505 L375,525 L420,525 L445,505 L515,505 L515,920 L445,920 L420,895 L375,895 L345,920 L255,920 L255,880" stroke-width="16" /><path d="M335,530 L440,530 L460,560 L460,865 L440,890 L335,890 L315,865 L315,560 Z" stroke-width="14" /><path d="M255,505 L350,505 L355,540 L300,545 L275,555 L255,555 Z M255,920 L350,920 L355,885 L300,880 L275,870 L255,870 Z M515,505 L425,505 L420,540 L470,545 L495,555 L515,555 Z M515,920 L425,920 L420,885 L470,880 L495,870 L515,870 Z" stroke-width="12" /><path d="M310,945 L465,945 L465,1215 L310,1215 Z M340,1245 L465,1245 L465,1465 L340,1465 Z" stroke-width="16" /><path d="M175,1245 L320,1245 L320,1490 L1145,1490 L1145,1405 L975,1405 L975,1465 L495,1465 L495,970 L940,970 L940,1030 L760,1030 L760,1250 L970,1250 L970,1320 L1230,1320 L1230,1270 L1210,1270" stroke-width="16" /><path d="M525,145 L940,145 L940,175 L760,175 L760,400 L940,400 L940,465 L525,465 Z" stroke-width="16" /><path d="M525,495 L775,495 L775,940 L525,940 Z" stroke-width="16" /><path d="M970,145 L1110,145 L1110,455 L1200,455 L1200,490 L995,490 L995,370 L780,370 L780,205 L995,205 L995,145" stroke-width="16" /><path d="M1130,145 L1220,145 L1220,170 L1200,170 M1130,145 L1130,430 L1200,430 L1200,370 L1220,370 M1225,370 L1225,1280" stroke-width="16" /><path d="M790,520 L790,580 L810,580 L810,540 L860,540 L885,515 L1135,515 L1160,540 L1205,540 L1205,580 L1225,580 M790,910 L790,860 L810,860 L810,900 L860,900 L885,920 L1135,920 L1160,900 L1205,900 L1205,860 L1225,860 M790,520 L790,940 M1225,520 L1225,940" stroke-width="16" /><path d="M850,570 L1140,570 L1165,600 L1165,860 L1140,890 L850,890 L825,860 L825,600 Z" stroke-width="14" /><path d="M780,1030 L780,1250 M760,1030 L970,1030 L970,945 L1200,945 L1200,980 L995,980 L995,1280 L1110,1280 L1110,990 L1200,990 L1200,1010 L1135,1010 L1135,1295 L1200,1295" stroke-width="16" /><path d="M1000,1340 L1140,1340 L1140,1360 L1050,1360 M1000,1385 L1120,1385 L1120,1455 L1000,1455 Z" stroke-width="8" /><path d="M1440,145 L1510,145 L1510,455 L1445,455 L1445,500 L1470,500 M1440,145 L1440,175 M1545,145 L1624,145 M1545,145 L1545,540 L1624,540" stroke-width="16" /><path d="M1520,560 L1580,560 L1580,600 L1624,600 M1520,560 L1520,1000 M1520,960 L1580,960 L1580,1000 L1624,1000" stroke-width="16" /><path d="M1440,1000 L1470,1000 L1470,1030 L1440,1030 M1445,1010 L1555,1010 L1555,1295 L1445,1295 L1445,1320 L1624,1320 M1580,1000 L1580,1295 L1624,1295" stroke-width="16" /><path d="M1175,200 L1265,200 L1265,360 L1175,360 Z M1400,200 L1495,200 L1495,360 L1400,360 Z M1175,1080 L1265,1080 L1265,1240 L1175,1240 Z M1400,1080 L1495,1080 L1495,1240 L1400,1240 Z" stroke-width="5" fill="url(#xh5)"/><path d="M1195,230 L1245,230 L1245,330 L1195,330 Z M1420,230 L1475,230 L1475,330 L1420,330 Z M1195,1105 L1245,1105 L1245,1210 L1195,1210 Z M1420,1105 L1475,1105 L1475,1210 L1420,1210 Z" stroke-width="6" fill="#fff"/><path d="M1250,140 L1330,140 L1330,440 L1250,440 Z M1330,130 L1420,130 L1420,440 L1330,440 Z M1250,1000 L1330,1000 L1330,1315 L1250,1315 Z M1340,1000 L1425,1000 L1425,1320 L1340,1320 Z" stroke-width="5" fill="url(#xh5c)"/><path d="M1280,150 L1315,150 L1315,420 L1280,420 Z M1360,140 L1400,140 L1400,420 L1360,420 Z M1280,1010 L1315,1010 L1315,1300 L1280,1300 Z M1365,1010 L1405,1010 L1405,1305 L1365,1305 Z" stroke-width="6" /></g></g><defs><clipPath id="fc"><rect x="2226" y="820" width="274" height="280"/></clipPath></defs><g clip-path="url(#fc)"><g transform="translate(2220,820) scale(0.17241)" fill="none" stroke="#000"><path d="M0,245 L1020,245 L1020,460" stroke-width="16" /><path d="M0,1525 L1530,1525 M1020,1525 L1020,1437 L1530,1437" stroke-width="16" /><path d="M145,270 L495,270 L495,690 L145,690 Z" stroke-width="16" /><path d="M185,1170 L500,1170 L500,1500 L185,1500 Z" stroke-width="16" /><path d="M120,715 L120,1170 M520,245 L520,1505 L845,1505 L845,1435 L880,1435 L880,1490 L1000,1490 L1000,1440 L1020,1440" stroke-width="16" /><path d="M25,245 L25,290 L120,290 L120,580 L60,580 L60,520 L25,520 M25,1525 L25,1480 L55,1480 L55,1500 L160,1500 L160,1200 L60,1200 L60,1255 L25,1255" stroke-width="16" /><path d="M25,600 L120,600 L120,715 M25,600 L25,650 L60,650 M120,1170 L25,1170 L25,1255" stroke-width="16" /><path d="M200,790 L235,745 L290,760 L320,725 L350,725 L380,760 L420,745 L455,790 L455,1080 L420,1120 L380,1105 L350,1140 L320,1140 L290,1105 L235,1120 L200,1080 Z" stroke-width="14" /><path d="M125,720 L210,720 L240,745 L200,770 L125,790 Z M125,1150 L210,1150 L240,1120 L200,1095 L125,1080 Z M515,720 L420,720 L405,750 L450,770 L515,790 Z M515,1150 L420,1150 L405,1120 L450,1095 L515,1080 Z" stroke-width="12" fill="#000"/><path d="M520,900 L600,900 L600,945 L520,945 M520,1020 L600,1020 L600,1055 L520,1055" stroke-width="14" /><path d="M555,290 L555,580 L600,580 L600,640 L520,640 M555,290 L620,290 L620,245 M640,245 L640,325 L560,325 M655,270 L1000,270" stroke-width="16" /><path d="M1000,270 L1000,440 L845,440 L845,460 L1020,460" stroke-width="14" /><path d="M565,415 L860,470 L850,490 L565,440 Z M600,610 L830,560 L850,520 L600,590 Z M845,465 L1015,465 L1015,590 L790,590 Z" stroke-width="5" fill="url(#xh5)"/><path d="M840,1370 L1040,1370 L1000,1440 L840,1440 Z" stroke-width="5" fill="url(#xh5)"/><path d="M905,1440 L955,1440 L955,1490 L905,1490 Z" stroke-width="6" /><path d="M760,595 L1530,595M760,612 L1530,612M760,628 L1530,628M760,645 L1530,645M760,665 L1530,665M760,920 L1530,920M760,935 L1530,935M760,952 L1530,952M760,970 L1530,970M760,985 L1530,985M760,1000 L1530,1000M760,1255 L1530,1255M760,1275 L1530,1275M760,1295 L1530,1295M760,1318 L1530,1318M760,1340 L1530,1340M760,1365 L1530,1365" stroke-width="5" /><path d="M760,595 Q745,600 750,640 L750,1340 Q750,1365 770,1365" stroke-width="5" /><path d="M755,665 L860,665 L860,920 L755,920 Z M755,1000 L860,1000 L860,1255 L755,1255 Z" stroke-width="4" fill="url(#stipD5)"/><path d="M870,675 L990,675 L990,915 L890,915 L860,880 L860,710 Z M870,1005 L990,1005 L990,1250 L890,1250 L860,1215 L860,1040 Z" stroke-width="6" /><path d="M1530,0 L1530,1624" stroke-width="6" stroke-dasharray="50 20 8 20"/></g></g>
<defs><pattern id="xhR" width="8" height="8" patternUnits="userSpaceOnUse"><path d="M0,0 L8,8 M8,0 L0,8" stroke="#222" stroke-width="0.8" fill="none"/></pattern><pattern id="stipR" width="4" height="4" patternUnits="userSpaceOnUse"><rect x="1" y="1" width="1.1" height="1.1" fill="#333"/></pattern></defs><g fill="none" stroke="#000"><path d="M1784,857 L1784,423 L1943,423 L1943,857" stroke-width="2.4"/><path d="M1788.5,852 L1788.5,433 L1938.5,433 L1938.5,852" stroke-width="2.2"/></g><path d="M1863.3,412 L1863.3,1132" stroke="#444" stroke-width="0.9" stroke-dasharray="14 4 2 4"/><path d="M1786,533.5 L1825,533.5 L1831,539 L1825,544.5 L1786,544.5" fill="none" stroke="#222" stroke-width="0.9"/><path d="M1795,539 L1826,539" stroke="#444" stroke-width="0.7" stroke-dasharray="5 2 1 2"/><path d="M1788,547 L1793,531 M1791,547 L1796,531 M1794,547 L1799,531 M1797,547 L1801,531" stroke="#222" stroke-width="0.9"/><path d="M1782,527 L1782,551 M1779,525 Q1770,539 1779,553" fill="none" stroke="#333" stroke-width="0.8"/><path d="M1786,815.5 L1825,815.5 L1831,821 L1825,826.5 L1786,826.5" fill="none" stroke="#222" stroke-width="0.9"/><path d="M1795,821 L1826,821" stroke="#444" stroke-width="0.7" stroke-dasharray="5 2 1 2"/><path d="M1788,829 L1793,813 M1791,829 L1796,813 M1794,829 L1799,813 M1797,829 L1801,813" stroke="#222" stroke-width="0.9"/><path d="M1782,809 L1782,833 M1779,807 Q1770,821 1779,835" fill="none" stroke="#333" stroke-width="0.8"/><path d="M1781,470 L1781,605 M1781,785 L1781,852" stroke="#333" stroke-width="0.9"/><defs><clipPath id="wdvs"><path d="M1594.5,423 L1783,423 L1783,857 L1594.5,857 Z"/></clipPath></defs><path clip-path="url(#wdvs)" d="M1614.6,408.8 A20.5,20.5 0 0 0 1614.6,449.8M1756.5,428.9 A20.5,20.5 0 0 1 1756.5,469.9M1611,408.8 L1754,428.9 L1611,449.8M1614.6,449.8 A20.5,20.5 0 0 0 1614.6,490.8M1756.5,469.9 A20.5,20.5 0 0 1 1756.5,510.9M1611,449.8 L1754,469.9 L1611,490.8M1614.6,490.8 A20.5,20.5 0 0 0 1614.6,531.8M1756.5,510.9 A20.5,20.5 0 0 1 1756.5,551.9M1611,490.8 L1754,510.9 L1611,531.8M1614.6,531.8 A20.5,20.5 0 0 0 1614.6,572.8M1756.5,551.9 A20.5,20.5 0 0 1 1756.5,592.9M1611,531.8 L1754,551.9 L1611,572.8M1614.6,572.8 A20.5,20.5 0 0 0 1614.6,613.8M1756.5,592.9 A20.5,20.5 0 0 1 1756.5,633.9M1611,572.8 L1754,592.9 L1611,613.8M1614.6,613.8 A20.5,20.5 0 0 0 1614.6,654.8M1756.5,633.9 A20.5,20.5 0 0 1 1756.5,674.9M1611,613.8 L1754,633.9 L1611,654.8M1614.6,654.8 A20.5,20.5 0 0 0 1614.6,695.8M1756.5,674.9 A20.5,20.5 0 0 1 1756.5,715.9M1611,654.8 L1754,674.9 L1611,695.8M1614.6,695.8 A20.5,20.5 0 0 0 1614.6,736.8M1756.5,715.9 A20.5,20.5 0 0 1 1756.5,756.9M1611,695.8 L1754,715.9 L1611,736.8M1614.6,736.8 A20.5,20.5 0 0 0 1614.6,777.8M1756.5,756.9 A20.5,20.5 0 0 1 1756.5,797.9M1611,736.8 L1754,756.9 L1611,777.8M1614.6,777.8 A20.5,20.5 0 0 0 1614.6,818.8M1756.5,797.9 A20.5,20.5 0 0 1 1756.5,838.9M1611,777.8 L1754,797.9 L1611,818.8M1614.6,818.8 A20.5,20.5 0 0 0 1614.6,859.8M1756.5,838.9 A20.5,20.5 0 0 1 1756.5,879.9M1611,818.8 L1754,838.9 L1611,859.8M1614.6,859.8 A20.5,20.5 0 0 0 1614.6,900.8M1756.5,879.9 A20.5,20.5 0 0 1 1756.5,920.9M1611,859.8 L1754,879.9 L1611,900.8M1614.6,900.8 A20.5,20.5 0 0 0 1614.6,941.8M1756.5,920.9 A20.5,20.5 0 0 1 1756.5,961.9M1611,900.8 L1754,920.9 L1611,941.8" fill="none" stroke="#333" stroke-width="0.9"/><path d="M1625.7,470 L1625.7,423.7 L1782.7,423.7 L1782.7,470 L1777.8,470 L1777.8,429.2 L1631.9,429.2 L1631.9,470 Z" fill="#fff" stroke="#222" stroke-width="1"/><path d="M1594.5,438 Q1610,445 1625.7,438 L1625.7,466 Q1610,472 1594.5,466 Z" fill="url(#xhR)" stroke="#222" stroke-width="0.9"/><path d="M1594.5,423 Q1610,430 1625.7,423 L1625.7,438 Q1610,445 1594.5,438 Z" fill="url(#stipR)" stroke="#333" stroke-width="0.7"/><path d="M1775,432 L1772,460 L1780,490" fill="none" stroke="#333" stroke-width="0.8"/><path d="M1596.8,714 L1596.8,859.5 L1783.5,859.5" fill="none" stroke="#000" stroke-width="4.6"/><path d="M1596.8,720 L1596.8,854 M1603,859.5 L1782,859.5" fill="none" stroke="#fff" stroke-width="2.6" stroke-dasharray="5 9"/><path d="M659,818.3 L733.3,818.3 L747,826.5 L733.3,834.5 L659,834.5" fill="none" stroke="#222" stroke-width="1"/><path d="M664.0,813.5 L670.0,839 M672.3,813.5 L678.3,839 M680.6,813.5 L686.6,839 M688.9,813.5 L694.9,839 M697.2,813.5 L703.2,839 M705.5,813.5 L711.5,839 M713.8,813.5 L719.8,839 M722.1,813.5 L728.1,839 " stroke="#222" stroke-width="0.9"/><path d="M659,826.5 L740,826.5" stroke="#444" stroke-width="0.8" stroke-dasharray="8 3 1.5 3"/><path d="M2225.7,847.8 A23,23 0 1 0 2185.9,847.8 Q2200,853 2205.8,861.5 Q2211.6,853 2225.7,847.8 Z" fill="#fff" stroke="#000" stroke-width="1.7"/><circle cx="2205.8" cy="836.3" r="13.3" fill="none" stroke="#000" stroke-width="1.8"/><path d="M2183,836.3 L2229,836.3 M2205.8,812 L2205.8,862" stroke="#333" stroke-width="0.7" stroke-dasharray="7 2 1 2"/><defs><clipPath id="ljoint"><rect x="612.5" y="845.5" width="30" height="147"/></clipPath></defs><path clip-path="url(#ljoint)" d="M613,846.0 L635,853.3 L613,860.6M635,838.7 A7.3,7.3 0 0 1 635,853.3M613,860.6 L635,867.9 L613,875.2M635,853.3 A7.3,7.3 0 0 1 635,867.9M613,875.2 L635,882.5 L613,889.8M635,867.9 A7.3,7.3 0 0 1 635,882.5M613,889.8 L635,897.1 L613,904.4M635,882.5 A7.3,7.3 0 0 1 635,897.1M613,904.4 L635,911.7 L613,919.0M635,897.1 A7.3,7.3 0 0 1 635,911.7M613,919.0 L635,926.3 L613,933.6M635,911.7 A7.3,7.3 0 0 1 635,926.3M613,933.6 L635,940.9 L613,948.2M635,926.3 A7.3,7.3 0 0 1 635,940.9M613,948.2 L635,955.5 L613,962.8M635,940.9 A7.3,7.3 0 0 1 635,955.5M613,962.8 L635,970.1 L613,977.4M635,955.5 A7.3,7.3 0 0 1 635,970.1M613,977.4 L635,984.7 L613,992.0M635,970.1 A7.3,7.3 0 0 1 635,984.7M613,992.0 L635,999.3 L613,1006.6M635,984.7 A7.3,7.3 0 0 1 635,999.3M613,846 L642,992 M642,846 L613,992" fill="none" stroke="#222" stroke-width="0.8"/><path d="M1311.4,676.6 L1494,676.6 L1593.5,786" fill="none" stroke="#222" stroke-width="1.1"/><path d="M1595.5,788 L1578,774 L1584,768 Z" fill="#000"/><path d="M1302,895.3 L1490.5,895.3 L1640,1058" fill="none" stroke="#222" stroke-width="1.1"/><path d="M1646,1066 L1631,1052 L1637,1047 Z" fill="#000"/><g transform="translate(2200,450) scale(0.23392)" fill="none" stroke="#333" stroke-width="4.5"><path d="M108,90 L108,1570 M445,90 L445,845 M988,90 L988,845 M1052,90 L1052,1570" stroke-dasharray="22 12"/><path d="M555,90 L555,1030 M566,90 L566,1030 M578,90 L578,1030 M589,90 L589,1030 M601,90 L601,1030 M612,90 L612,1030 M623,90 L623,1030 M635,90 L635,1030 M850,90 L850,1030 M861,90 L861,1030 M873,90 L873,1030 M884,90 L884,1030 M896,90 L896,1030 M907,90 L907,1030 M918,90 L918,1030 M930,90 L930,1030 " stroke-dasharray="26 8" stroke-width="3.5" stroke="#555"/><path d="M555,1030 L935,1030" /><path d="M635,855 L850,855 L850,1030 L635,1030 Z" /><path d="M645,870 L840,870 L840,930 L815,950 L670,950 L645,930 Z" /><path d="M640,950 L845,950 L845,1025 L640,1025 Z" fill="url(#stipD5)" stroke-width="3"/><path d="M108,848 L555,848 M935,848 L1052,848 M125,868 L430,868 L430,970 L445,970 M125,868 L125,1110 L160,1110 L160,1185 L345,1185 L345,1160 L300,1160 M108,1130 L140,1130 L140,1205 L1035,1205 L1035,970 L990,970 M125,1225 L440,1225 L440,1485 L125,1485 Z M795,1225 L1035,1225 L1035,1455 L795,1455 Z" stroke-dasharray="22 12"/><path d="M500,1210 L500,1240 L465,1240 L465,1280 L500,1300 L465,1340 L465,1420 L500,1450 L500,1500 L725,1500 L725,1450 L770,1420 L770,1340 L725,1300 L770,1280 L770,1240 L725,1240 L725,1210 M500,1260 L725,1260 M500,1450 L725,1450" stroke-dasharray="22 12"/><path d="M108,1500 L500,1500 M725,1500 L1052,1500 M108,1500 L108,1570 L140,1570 L140,1540 L180,1540 M300,1570 L405,1570 L405,1540 L380,1540 L380,1505 M355,1505 L355,1540 L300,1540 Z M795,1570 L850,1570 L850,1540 L815,1540 L815,1475 L1035,1475 L1035,1540 L995,1540 L995,1570 L1052,1570" stroke-dasharray="22 12"/><path d="M590,1170 L590,1150 L620,1150 L620,1205 M680,1205 L680,1150 L705,1150 L705,1205" stroke-dasharray="22 12"/><path d="M445,850 L480,870 L475,960 L445,975 L410,1190 L430,1195 L470,1000 L500,975 L540,1000 L570,1200 L590,1200 L550,980 L550,850 L505,850 L480,870 M445,860 L445,970" stroke-width="5" fill="none"/><path d="M935,820 L960,840 L950,960 L935,975 M990,860 L1030,860 L1030,945 L990,945 Z" stroke-width="5" fill="none"/></g>
<text x="769.5" y="643.7" font-size="22" text-anchor="start" stroke="#000" stroke-width="0.55" >dampfdichter</text>
<text x="769.5" y="670" font-size="22" text-anchor="start" stroke="#000" stroke-width="0.55" >Anschluss</text>
<text x="771.5" y="863" font-size="22" text-anchor="start" stroke="#000" stroke-width="0.55" >dampfoffener</text>
<text x="771.5" y="888.7" font-size="22" text-anchor="start" stroke="#000" stroke-width="0.55" >Anschluss</text>
<text x="1466.5" y="643.7" font-size="22" text-anchor="end" stroke="#000" stroke-width="0.55" >dampfdichter</text>
<text x="1466.5" y="670" font-size="22" text-anchor="end" stroke="#000" stroke-width="0.55" >Folienanschluss</text>
<text x="1466.5" y="857.4" font-size="22" text-anchor="end" stroke="#000" stroke-width="0.55" >WDVS-Gewebe-</text>
<text x="1466.5" y="884.2" font-size="22" text-anchor="end" stroke="#000" stroke-width="0.55" >anschlussprofil</text>
<path d="M897.2,676.3 L743.7,676.3 L637.7,789.2" fill="none" stroke="#222" stroke-width="1.1"/>
<path d="M627,803 L637,786 L641,791 Z" fill="#000"/>
<path d="M902.8,895.5 L747.4,895.5 L643.7,1009" fill="none" stroke="#222" stroke-width="1.1"/>
<path d="M627,1027.5 L638,1011 L643,1016 Z" fill="#000"/>
<g stroke="#000" stroke-width="2.2" fill="none">
<path d="M1361,1761 L1361,1475.5 L2502,1475.5"/>
<path d="M2217,1475.5 L2217,1761 M2217,1608 L2502,1608 M2359,1608 L2359,1671.7 M2217,1671.7 L2502,1671.7 M2407,1671.7 L2407,1761"/>
</g>
<text x="1376" y="1538.9" font-size="62" text-anchor="start" stroke="#000" stroke-width="0.9" >Beschreibung:</text>
<text x="1378.7" y="1606.2" font-size="31" text-anchor="start" stroke="#000" stroke-width="0.75" >seitlicher Fensteranschluss und in Pfosten-Riegel</text>
<text x="1378.7" y="1642.7" font-size="31" text-anchor="start" stroke="#000" stroke-width="0.75" >Fassade eingespannte Faltschiebeanlage</text>
<text x="2227.6" y="1497.2" font-size="22" text-anchor="start" stroke="#000" stroke-width="0.55" >Hauptgruppe:</text>
<text x="2227.6" y="1523.1000000000001" font-size="22" text-anchor="start" stroke="#000" stroke-width="0.55" >Fenster-Türen</text>
<text x="2227.6" y="1549.0" font-size="22" text-anchor="start" stroke="#000" stroke-width="0.55" >Konstruktionen</text>
<text x="2227.6" y="1574.9" font-size="22" text-anchor="start" stroke="#000" stroke-width="0.55" >seitlicher</text>
<text x="2227.6" y="1600.8" font-size="22" text-anchor="start" stroke="#000" stroke-width="0.55" >Baukörperanschluss</text>
<text x="2227.6" y="1637.2" font-size="22" text-anchor="start" stroke="#000" stroke-width="0.55" >Gez.:</text>
<text x="2227.6" y="1662" font-size="22" text-anchor="start" stroke="#000" stroke-width="0.55" >K. Dahse</text>
<text x="2370.7" y="1637.2" font-size="22" text-anchor="start" stroke="#000" stroke-width="0.55" >Datum:</text>
<text x="2370.7" y="1662" font-size="22" text-anchor="start" stroke="#000" stroke-width="0.55" >01.02.2012</text>
<text x="2227.6" y="1701" font-size="22" text-anchor="start" stroke="#000" stroke-width="0.55" >Detail-Nr:</text>
<text x="2227.6" y="1731.7" font-size="22" text-anchor="start" stroke="#000" stroke-width="0.55" >B-01-0018</text>
<text x="2409" y="1701" font-size="22" text-anchor="start" stroke="#000" stroke-width="0.55" >Maßstab:</text>
<text x="2418" y="1731.7" font-size="22" text-anchor="start" stroke="#000" stroke-width="0.55" >1 : 2</text>
</svg></body></html>
